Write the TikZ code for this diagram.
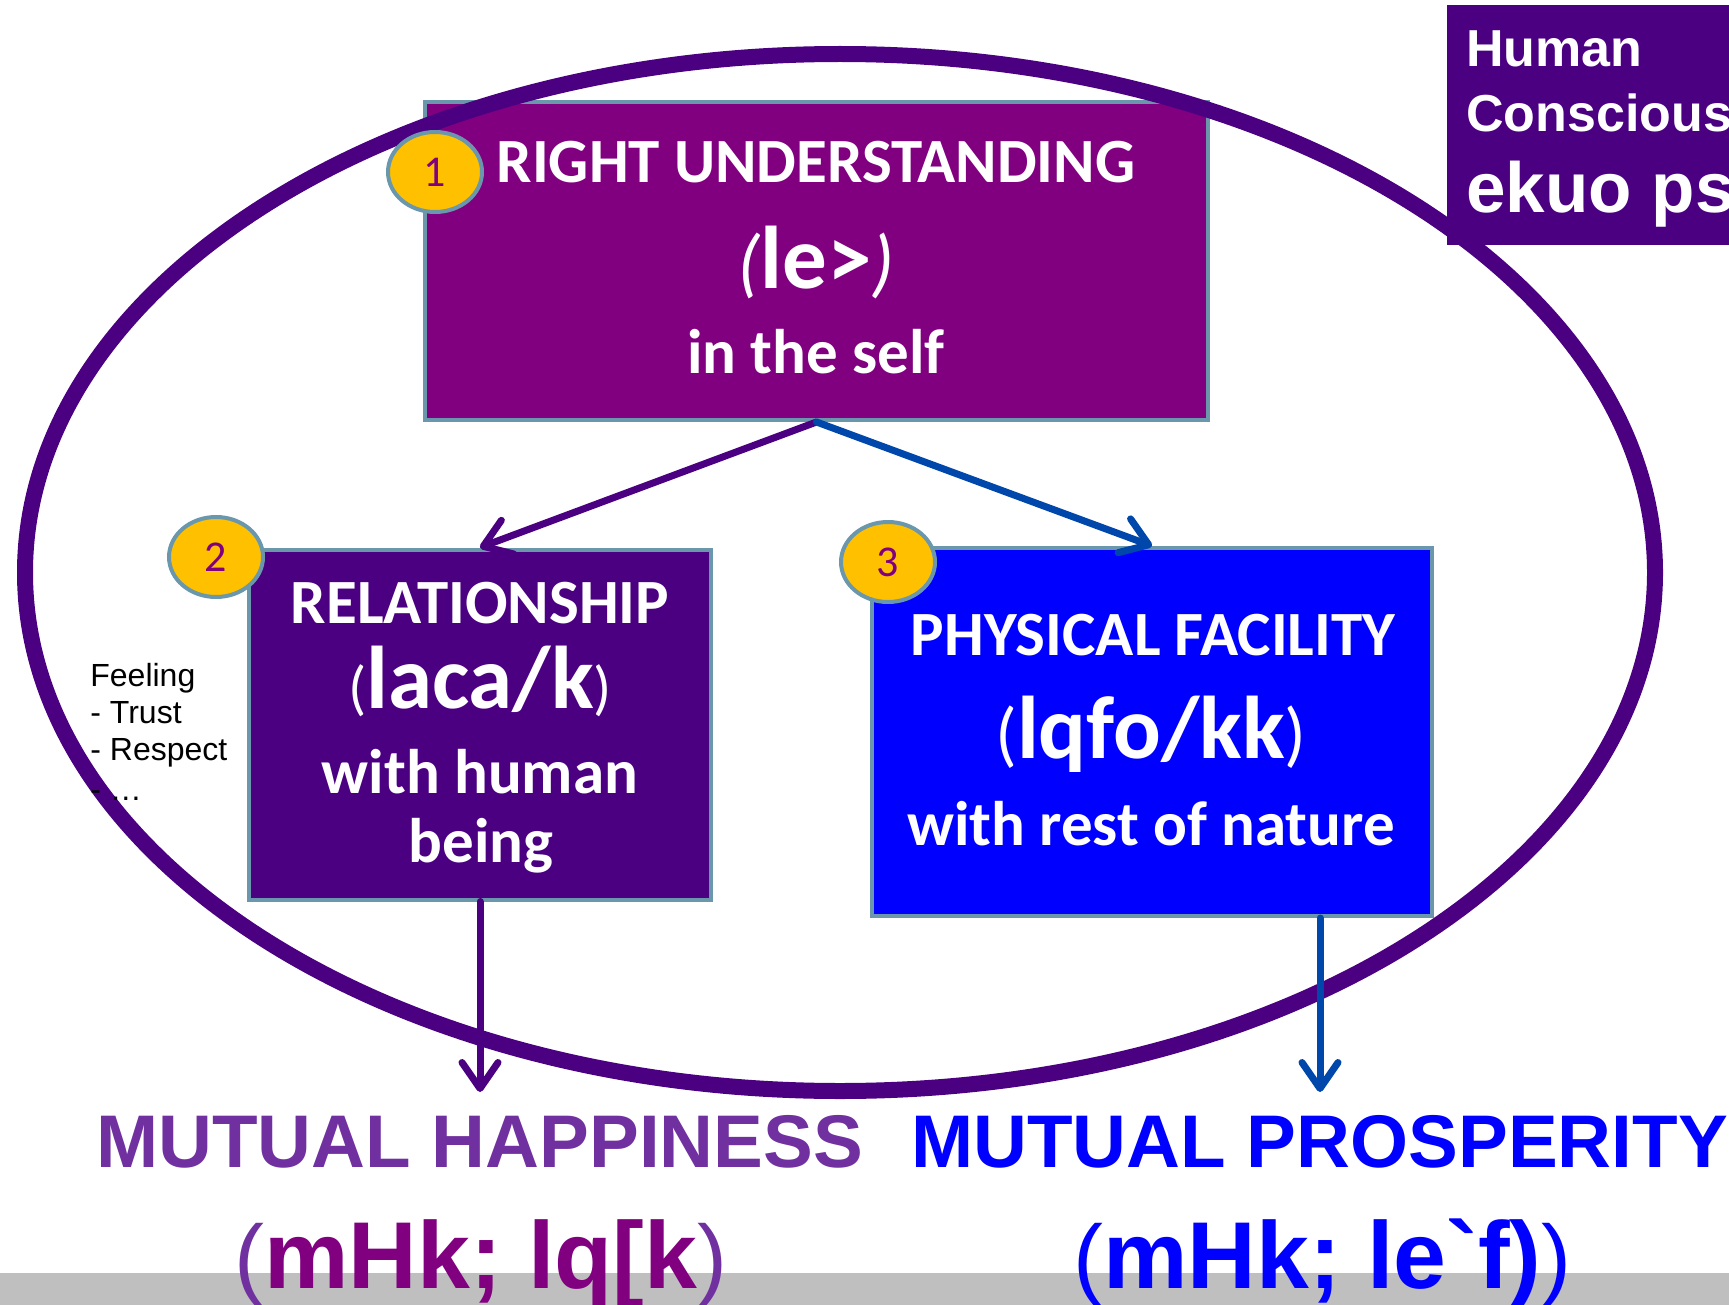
\documentclass[tikz,border=0pt]{standalone}
\usepackage{fontspec}
\setmainfont{Carlito}
\newfontfamily\arialf{Liberation Sans}
\usetikzlibrary{arrows.meta,shapes.geometric}
\definecolor{boxpurple}{RGB}{128,0,128}
\definecolor{indigo}{RGB}{75,0,130}
\definecolor{pureblue}{RGB}{0,0,255}
\definecolor{edgeblue}{RGB}{106,151,172}
\definecolor{gold}{RGB}{255,192,0}
\definecolor{arrowblue}{RGB}{0,71,171}
\definecolor{violetc}{RGB}{112,48,160}
\definecolor{barGray}{RGB}{191,191,191}
\newcommand\setfs[1]{\fontsize{#1}{#1}\selectfont}
\newcommand\parI[2]{{\mdseries\itshape\setfs{#1}#2}}
\newcommand\parU[2]{{\mdseries\setfs{#1}#2}}
\newcommand\bigT[1]{{\bfseries\setfs{44.5pt}#1}}
\tikzset{
  box/.style={draw=edgeblue, line width=2pt, rectangle, inner sep=0pt},
  badge/.style={ellipse, draw=edgeblue, line width=2pt, fill=gold, minimum width=47pt, minimum height=40pt, inner sep=0pt, text=boxpurple, font=\setfs{22pt}},
  wt/.style={anchor=base, inner sep=0pt, text=white, font=\bfseries\setfs{31.5pt}},
  note/.style={anchor=base west, inner sep=0pt, font=\arialf\setfs{16pt}},
  arr/.style={line width=3.5pt, line cap=round, -{Straight Barb[length=13pt,width=18pt,round]}},
  bottomtxt/.style={anchor=base west, inner sep=0pt, font=\arialf\bfseries\setfs{37.3pt}},
  hctxt/.style={anchor=base west, inner sep=0pt, text=white, font=\arialf\bfseries\setfs{26pt}}
}
\begin{document}
\begin{tikzpicture}[x=0.5pt,y=-0.5pt]
\useasboundingbox (0,0) rectangle (1729,1305);
\clip (0,0) rectangle (1729,1305);
% grey strip at the bottom
\fill[barGray] (0,1273) rectangle (1729,1305);
% box 1
\node[box, fill=boxpurple, minimum width=391.5pt, minimum height=159pt] (b1) at (816.5,261) {};
% big ellipse
\draw[indigo, line width=8pt] (840,572.5) ellipse [x radius=815, y radius=518.5];
% side note
\node[note] (f1) at (90,686) {Feeling};
\node[note] (f2) at (90,723) {- Trust};
\node[note] (f3) at (90,760) {- Respect};
\node[note] (f4) at (90,800) {- …};
% boxes 2 and 3
\node[box, fill=indigo, minimum width=231pt, minimum height=175pt] (b2) at (480,724.5) {};
\node[box, fill=pureblue, minimum width=280pt, minimum height=184pt] (b3) at (1152,732) {};
% top right box
\node[fill=indigo, inner sep=0pt, anchor=north west, minimum width=160pt, minimum height=120pt] (hc) at (1447,5) {};
\node[hctxt] (hc1) at (1466,67) {Human};
\node[hctxt] (hc2) at (1466,132) {Consciousness};
\node[hctxt, font=\arialf\bfseries\setfs{35.5pt}] (hc3) at (1466,213) {ekuo psruk};
% badges
\node[badge] (n1) at (435,172) {1};
\node[badge] (n2) at (216,557) {2};
\node[badge] (n3) at (888,562) {3};
% texts in boxes
\node[wt] (r1) at (816,183) {RIGHT UNDERSTANDING};
\node[wt] (r2) at (816,288) {\parI{38pt}{(}\bigT{le>}\parI{38pt}{)}};
\node[wt] (r3) at (816,373) {in the self};
\node[wt] (s1) at (480,623) {RELATIONSHIP};
\node[wt] (s2) at (480,708) {\parU{30pt}{(}\bigT{laca/k}\parU{30pt}{)}};
\node[wt] (s3) at (480,793) {with human};
\node[wt] (s4) at (481,862) {being};
\node[wt] (p1) at (1153,655) {PHYSICAL FACILITY};
\node[wt] (p2) at (1151,758) {\parU{36pt}{(}\bigT{lqfo/kk}\parU{36pt}{)}};
\node[wt] (p3) at (1151,845) {with rest of nature};
% arrows
\coordinate (t2) at (480,1092);
\coordinate (t3) at (1320,1092);
\draw[arr, indigo] (b1.south) -- (b2.north);
\draw[arr, arrowblue] (b1.south) -- (b3.north);
\draw[arr, indigo] (b2.south) -- (t2);
\draw[arr, arrowblue] (b3.south -| t3) -- (t3);
% bottom texts
\node[bottomtxt, text=violetc] (mh) at (96,1167) {MUTUAL HAPPINESS};
\node[bottomtxt, text=pureblue] (mp) at (911,1167) {MUTUAL PROSPERITY};
\node[anchor=base west, inner sep=0pt, font=\arialf] (hh) at (234,1288)
  {\textcolor{violetc}{\setfs{45pt}(}\textcolor{boxpurple}{\bfseries\setfs{47.5pt}mHk; lq[k}\textcolor{violetc}{\setfs{45pt})}};
\node[anchor=base west, inner sep=0pt, font=\arialf, text=pureblue] (pp) at (1073,1288)
  {{\setfs{45pt}(}{\bfseries\setfs{47.5pt}mHk; le`f)}{\setfs{45pt})}};
\end{tikzpicture}
\end{document}
